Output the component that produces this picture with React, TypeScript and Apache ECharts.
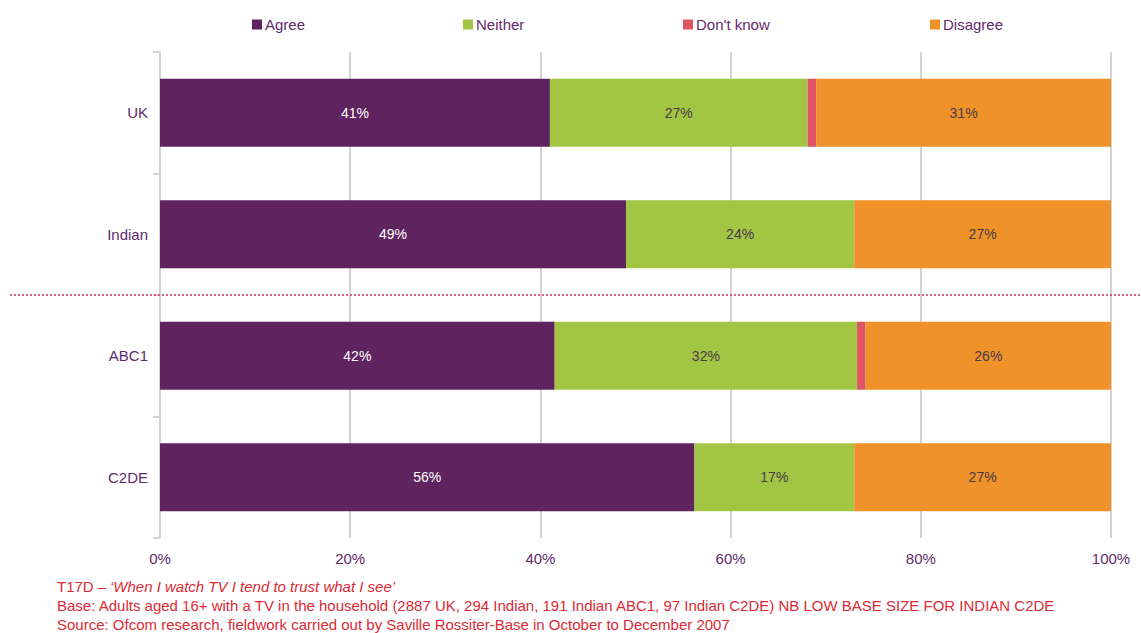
import React, { useEffect, useRef } from "react";
import * as echarts from "echarts";

const categories = ["UK", "Indian", "ABC1", "C2DE"];
const seriesNames = ["Agree", "Neither", "Don't know", "Disagree"];
const agree = [41, 49, 41.5, 56.2];
const neither = [27.1, 24, 31.8, 16.8];
const dontKnow = [0.9, 0, 0.9, 0];
const disagree = [31, 27, 25.8, 27];
const xTicks = [0, 20, 40, 60, 80, 100];
const footnotes = [
  "T17D – ",
  "‘When I watch TV I tend to trust what I see’",
  "Base: Adults aged 16+ with a TV in the household (2887 UK, 294 Indian, 191 Indian ABC1, 97 Indian C2DE) NB LOW BASE SIZE FOR INDIAN C2DE",
  "Source: Ofcom research, fieldwork carried out by Saville Rossiter-Base in October to December 2007",
];

const colors = ["#5f2360", "#a2c643", "#df5566", "#f0922a"];
const labelColors = ["#ffffff", "#4a3a4a", "#4a3a4a", "#4a3a4a"];
const legendLeft = [247, 458, 678, 925];
const purple = "#5f2a6b";
const red = "#dc2a36";
const FONT = "'Liberation Sans', Arial, sans-serif";

export default function App() {
  const ref = useRef<HTMLDivElement>(null);
  useEffect(() => {
    if (!ref.current) return;
    const chart = echarts.init(ref.current, null, { renderer: "svg" });
    const data = [agree, neither, dontKnow, disagree];
    chart.setOption({
      animation: false,
      textStyle: { fontFamily: FONT },
      legend: seriesNames.map((name, i) => ({
        top: 12,
        left: legendLeft[i],
        itemWidth: 10,
        itemHeight: 10,
        icon: "rect",
        textStyle: { color: purple, fontSize: 15, fontFamily: FONT, padding: [0, 0, 0, -2] },
        data: [name],
      })),
      grid: { left: 160, right: 30, top: 52, bottom: 95, containLabel: false },
      xAxis: {
        type: "value",
        min: 0,
        max: 100,
        interval: 20,
        axisLine: { show: false },
        axisTick: { show: false },
        splitLine: { show: true, lineStyle: { color: "#d3d3d3", width: 2 } },
        axisLabel: {
          color: purple,
          fontSize: 15,
          fontFamily: FONT,
          margin: 13,
          formatter: (v: number) => (xTicks.includes(v) ? v + "%" : ""),
        },
      },
      yAxis: {
        type: "category",
        inverse: true,
        data: categories,
        axisLine: { show: true, lineStyle: { color: "#d3d3d3", width: 2 } },
        axisTick: { show: true, length: 7, lineStyle: { color: "#d3d3d3", width: 2 } },
        axisLabel: { color: purple, fontSize: 15, fontFamily: FONT, margin: 12 },
      },
      series: seriesNames.map((name, i) => ({
        name,
        type: "bar",
        stack: "total",
        barWidth: 68,
        data: data[i],
        itemStyle: { color: colors[i] },
        label: {
          show: i !== 2,
          position: "inside",
          color: labelColors[i],
          fontSize: 14,
          fontFamily: FONT,
          formatter: (p: any) => (p.value > 0 ? Math.round(p.value) + "%" : ""),
        },
      })),
      graphic: [
        {
          type: "line",
          shape: { x1: 10, y1: 295, x2: 1141, y2: 295 },
          style: { stroke: "#c8385e", lineWidth: 1.5, lineDash: [2, 2] },
          z: 100,
        },
        {
          type: "text",
          left: 57,
          top: 579,
          style: { text: footnotes[0], fill: red, font: `15px ${FONT}` },
        },
        {
          type: "text",
          left: 110,
          top: 579,
          style: { text: footnotes[1], fill: red, font: `italic 15px ${FONT}` },
        },
        {
          type: "text",
          left: 57,
          top: 598,
          style: { text: footnotes[2], fill: red, font: `15px ${FONT}` },
        },
        {
          type: "text",
          left: 57,
          top: 617,
          style: { text: footnotes[3], fill: red, font: `15px ${FONT}` },
        },
      ],
    });
    return () => chart.dispose();
  }, []);
  return <div ref={ref} style={{ width: 1141, height: 633, position: "absolute", left: 0, top: 0 }} />;
}
